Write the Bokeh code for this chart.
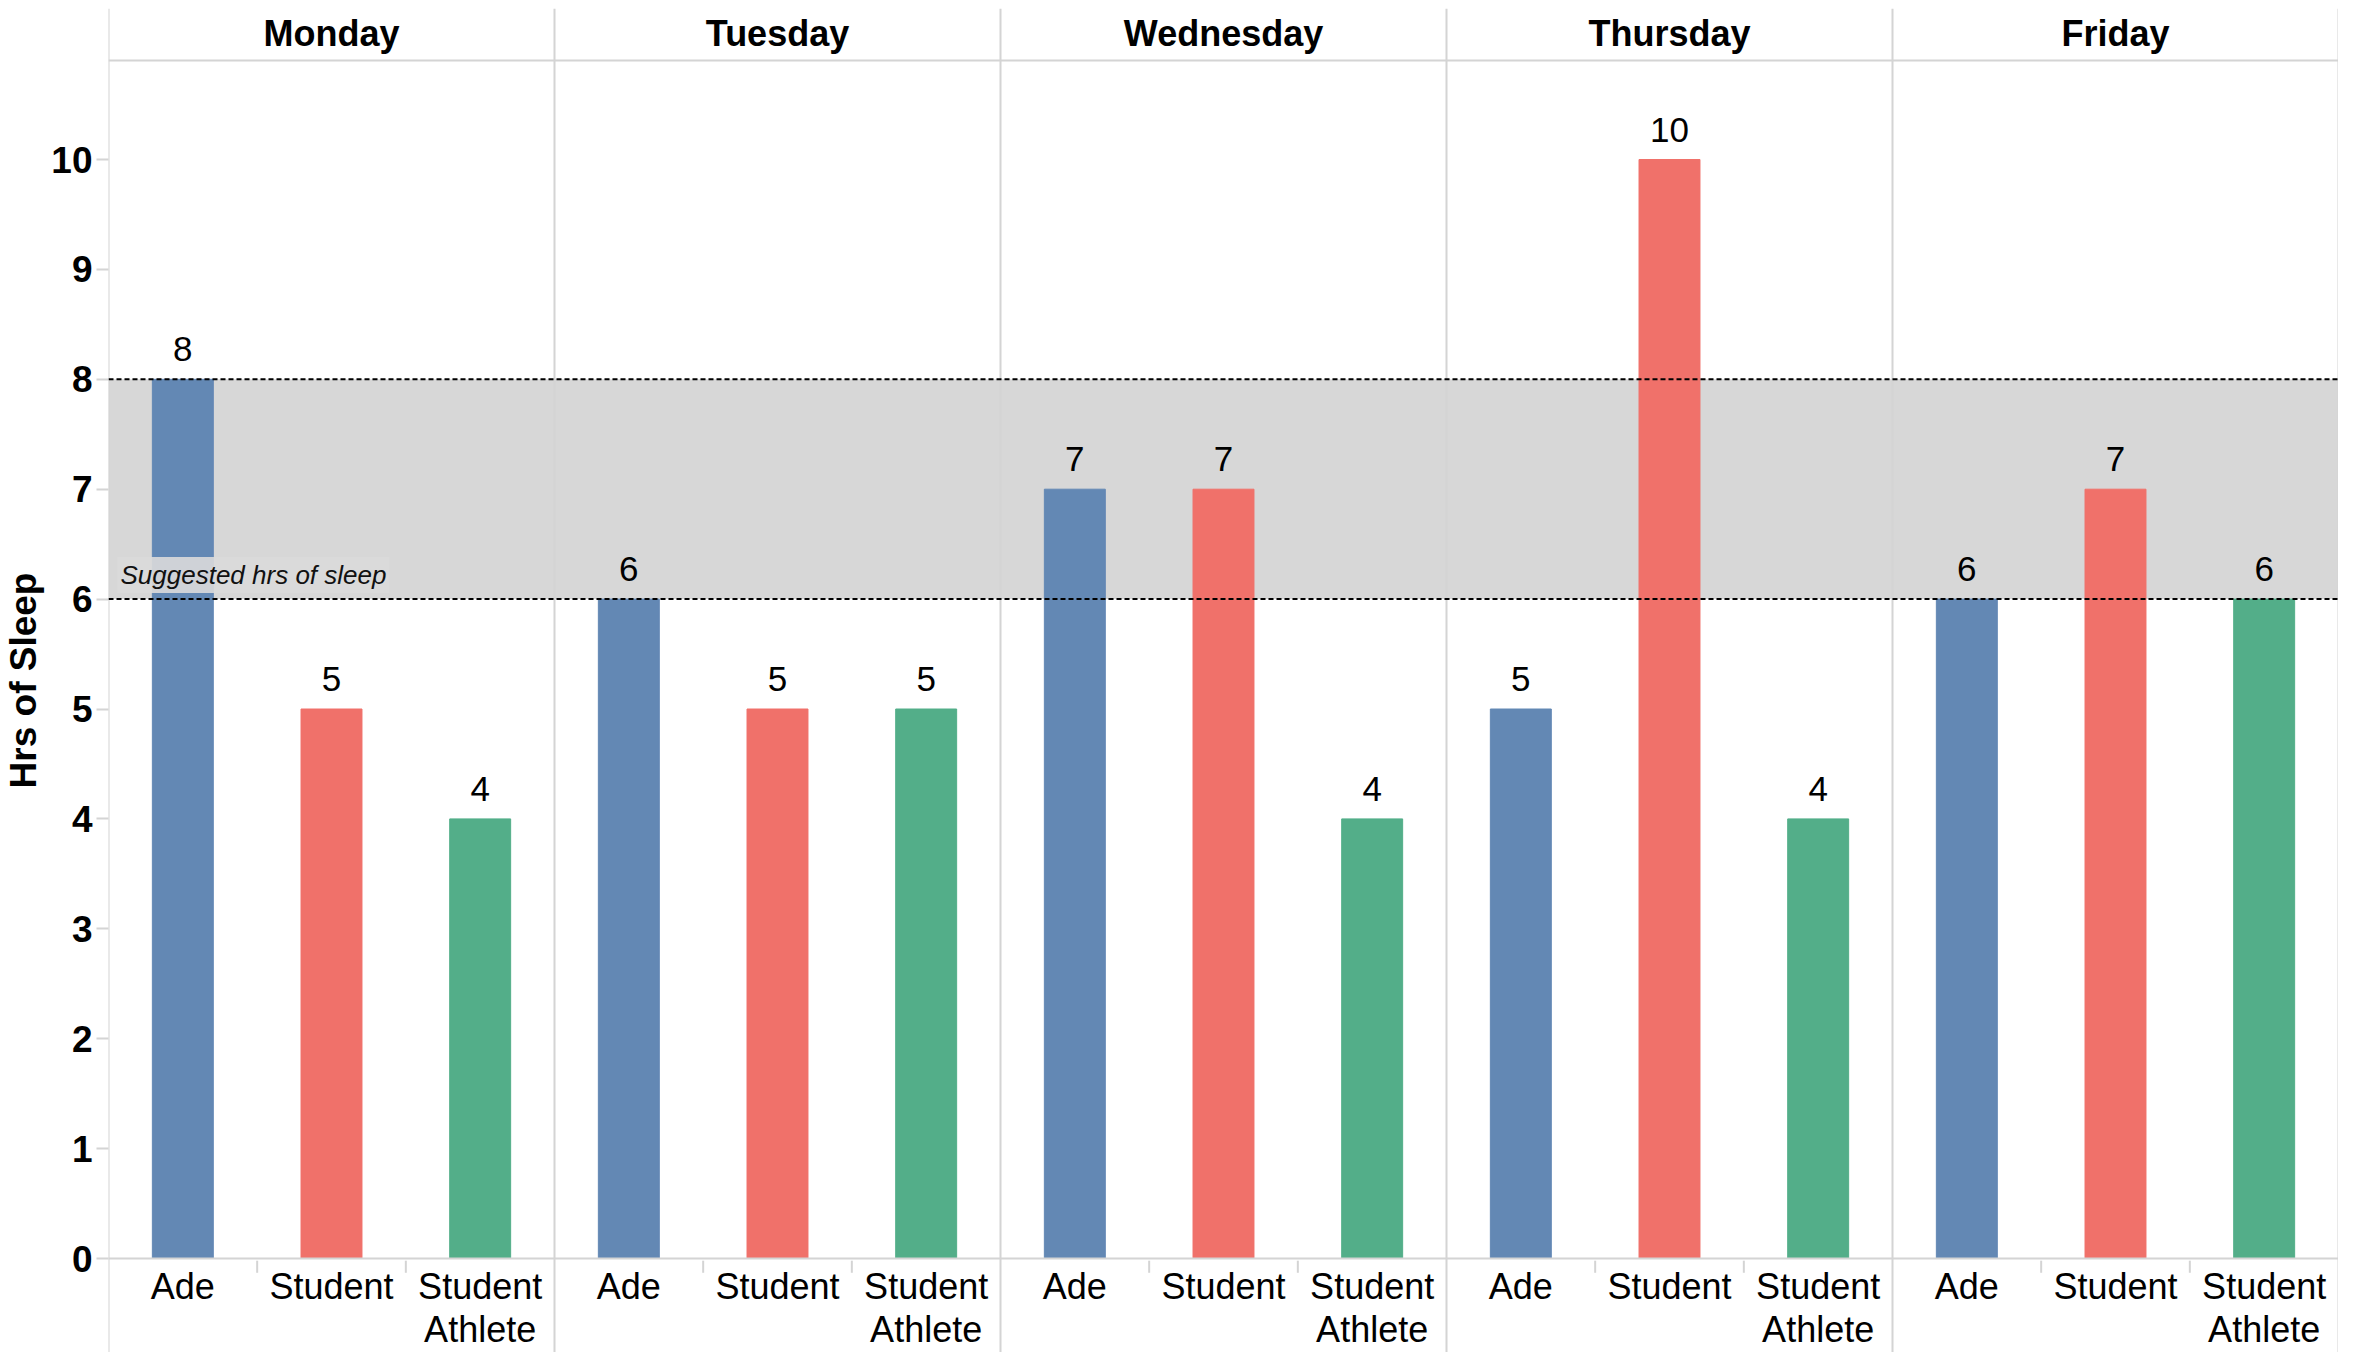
from bokeh.plotting import figure
from bokeh.models import FactorRange, Range1d, FixedTicker, BoxAnnotation, Span, ColumnDataSource
from bokeh.core.properties import value
from bokeh.embed import file_html
from bokeh.resources import INLINE

# ---- data ----
days = ["Monday", "Tuesday", "Wednesday", "Thursday", "Friday"]
people = ["Ade", "Student", "Student Athlete"]
person_labels = ["Ade", "Student", "Student\nAthlete"]
ade_hrs = [8, 6, 7, 5, 6]
student_hrs = [5, 5, 7, 10, 7]
athlete_hrs = [4, 5, 4, 4, 6]
suggested_low = 6
suggested_high = 8
y_ticks = [0, 1, 2, 3, 4, 5, 6, 7, 8, 9, 10]
colors = {"Ade": "#6388b4", "Student": "#f0716a", "Student Athlete": "#53ae89"}

FONT = value("Liberation Sans")
GRID = "#d4d4d4"

series = {"Ade": ade_hrs, "Student": student_hrs, "Student Athlete": athlete_hrs}
xs, tops, cols, txt = [], [], [], []
for i, d in enumerate(days):
    for pname in people:
        v = series[pname][i]
        xs.append((d, pname))
        tops.append(v)
        cols.append(colors[pname])
        txt.append(str(v))
bars = ColumnDataSource(dict(x=xs, top=tops, color=cols, label=txt))

x_range = FactorRange(factors=[(d, pn) for d in days for pn in people],
                      factor_padding=0, group_padding=0, range_padding=0)

# frame layout: frame 1344px tall (top border 8), zero line 1250px below frame top
PX_PER = 109.9
FRAME_H = 1344
ZERO_PX = 1250
Y_TOP = ZERO_PX / PX_PER
Y_BOT = -(FRAME_H - ZERO_PX) / PX_PER
HEADER_Y = (ZERO_PX - 52) / PX_PER

p = figure(width=2338, height=1352, x_range=x_range, y_range=Range1d(Y_BOT, Y_TOP),
           output_backend="svg", toolbar_location=None, x_axis_location=None,
           min_border_left=0, min_border_right=0, min_border_top=8, min_border_bottom=0)
p.outline_line_color = None
p.xgrid.visible = False
p.ygrid.visible = False
p.background_fill_color = "white"

# suggested band
p.add_layout(BoxAnnotation(bottom=suggested_low, top=suggested_high, fill_color="#d7d7d7",
                           fill_alpha=1.0, line_color=None, level="underlay"))

# bars
p.vbar(x="x", top="top", width=0.41, color="color", source=bars)

# dashed reference lines
for loc in (suggested_low, suggested_high):
    p.add_layout(Span(location=loc, dimension="width", line_color="black",
                      line_width=2, line_dash="5 3"))

# value labels
p.text(x="x", y="top", text="label", source=bars, text_font=FONT, text_font_size="35px",
       text_align="center", text_baseline="bottom", y_offset=-18, text_color="black")

# suggested label
p.text(x=[(days[0], people[0], -0.5)], y=[suggested_low], text=["Suggested hrs of sleep"],
       text_font=FONT, text_font_size="26px", text_font_style="italic",
       text_align="left", text_baseline="bottom", x_offset=9, y_offset=-6,
       text_color="#111111", background_fill_color="#dadada", background_fill_alpha=0.9,
       padding=3)

# panel dividers
div_x = [(d, people[0], -0.5) for d in days] + [(days[-1], people[-1], 0.5)]
p.segment(x0=div_x, x1=div_x, y0=[Y_BOT] * len(div_x), y1=[Y_TOP] * len(div_x),
          line_color=GRID, line_width=2)
# header bottom line
p.segment(x0=[(days[0], people[0], -0.5)], x1=[(days[-1], people[-1], 0.5)],
          y0=[HEADER_Y], y1=[HEADER_Y], line_color=GRID, line_width=2)
# axis baseline
p.add_layout(Span(location=0, dimension="width", line_color=GRID, line_width=2))
# small ticks between categories
tick_x = [(d, pn, -0.5) for d in days for pn in people[1:]]
p.segment(x0=tick_x, x1=tick_x, y0=[-0.02] * len(tick_x), y1=[-0.13] * len(tick_x),
          line_color=GRID, line_width=2)

# day headers
p.text(x=days, y=[Y_TOP] * len(days), text=days, text_font=FONT, text_font_size="36px",
       text_font_style="bold", text_align="center", text_baseline="middle", y_offset=25,
       text_color="black")

# category labels
cat_x = [(d, pn) for d in days for pn in people]
cat_t = [lab for d in days for lab in person_labels]
p.text(x=cat_x, y=[0] * len(cat_x), text=cat_t, text_font=FONT, text_font_size="36px",
       text_align="center", text_baseline="top", y_offset=7, text_line_height=1.05,
       text_color="black")

# y axis
ax = p.yaxis[0]
ax.ticker = FixedTicker(ticks=y_ticks)
ax.axis_label = "Hrs of Sleep"
ax.axis_label_text_font = "Liberation Sans"
ax.axis_label_text_font_size = "37px"
ax.axis_label_text_font_style = "bold"
ax.axis_label_text_color = "black"
ax.axis_label_standoff = 4
ax.major_label_text_font = "Liberation Sans"
ax.major_label_text_font_size = "37px"
ax.major_label_text_font_style = "bold"
ax.major_label_text_color = "black"
ax.major_label_standoff = 4
ax.axis_line_color = None
ax.major_tick_line_color = GRID
ax.major_tick_line_width = 2
ax.major_tick_out = 12
ax.major_tick_in = 0
ax.minor_tick_line_color = None

open("out.html", "w").write(file_html(p, INLINE))
